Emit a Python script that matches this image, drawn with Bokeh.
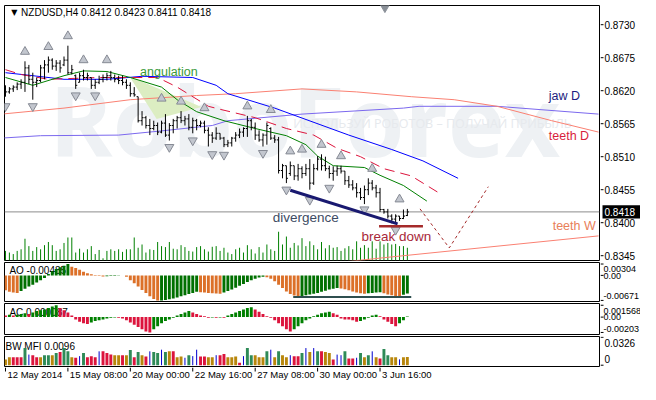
from bokeh.plotting import figure
from bokeh.models import Range1d, Span
from bokeh.layouts import column, row
from bokeh.embed import file_html
from bokeh.resources import INLINE
from bokeh.core.properties import value

# ---------------- data ----------------
symbol = "NZDUSD,H4"

high = [0.8629, 0.8626, 0.8629, 0.8634, 0.8639, 0.8669, 0.8663, 0.8650, 0.8642, 0.8663,
        0.8671, 0.8677, 0.8674, 0.8671, 0.8671, 0.8677, 0.8695, 0.8663, 0.8647, 0.8650,
        0.8655, 0.8650, 0.8642, 0.8639, 0.8645, 0.8647, 0.8650, 0.8653, 0.8647, 0.8645,
        0.8645, 0.8639, 0.8634, 0.8626, 0.8610, 0.8586, 0.8578, 0.8573, 0.8570, 0.8567,
        0.8570, 0.8581, 0.8566, 0.8573, 0.8578, 0.8586, 0.8578, 0.8581, 0.8575, 0.8573,
        0.8570, 0.8570, 0.8559, 0.8551, 0.8559, 0.8549, 0.8543, 0.8538, 0.8543, 0.8551,
        0.8557, 0.8559, 0.8578, 0.8573, 0.8567, 0.8554, 0.8549, 0.8567, 0.8559, 0.8546,
        0.8543, 0.8498, 0.8495, 0.8502, 0.8495, 0.8498, 0.8494, 0.8498, 0.8506, 0.8498,
        0.8511, 0.8514, 0.8510, 0.8495, 0.8494, 0.8495, 0.8495, 0.8486, 0.8478, 0.8471,
        0.8466, 0.8458, 0.8462, 0.8474, 0.8471, 0.8463, 0.8458, 0.8423, 0.8423, 0.8414,
        0.8414, 0.8411, 0.8422, 0.8423]
low = [0.8610, 0.8615, 0.8618, 0.8621, 0.8623, 0.8618, 0.8631, 0.8605, 0.8626, 0.8634,
       0.8639, 0.8650, 0.8655, 0.8653, 0.8650, 0.8661, 0.8647, 0.8647, 0.8623, 0.8634,
       0.8637, 0.8637, 0.8623, 0.8623, 0.8631, 0.8634, 0.8637, 0.8637, 0.8634, 0.8631,
       0.8629, 0.8623, 0.8610, 0.8610, 0.8567, 0.8562, 0.8557, 0.8546, 0.8554, 0.8546,
       0.8549, 0.8543, 0.8537, 0.8549, 0.8557, 0.8566, 0.8562, 0.8554, 0.8549, 0.8554,
       0.8559, 0.8549, 0.8527, 0.8533, 0.8538, 0.8538, 0.8526, 0.8526, 0.8527, 0.8535,
       0.8541, 0.8543, 0.8543, 0.8554, 0.8538, 0.8535, 0.8527, 0.8530, 0.8538, 0.8533,
       0.8482, 0.8474, 0.8466, 0.8478, 0.8471, 0.8470, 0.8474, 0.8478, 0.8455, 0.8463,
       0.8487, 0.8487, 0.8486, 0.8474, 0.8470, 0.8478, 0.8482, 0.8463, 0.8458, 0.8454,
       0.8442, 0.8438, 0.8431, 0.8446, 0.8454, 0.8442, 0.8418, 0.8415, 0.8407, 0.8399,
       0.8399, 0.8403, 0.8406, 0.8411]
open_ = [0.8623, 0.8618, 0.8623, 0.8626, 0.8631, 0.8634, 0.8658, 0.8639, 0.8634, 0.8637,
         0.8658, 0.8663, 0.8671, 0.8661, 0.8666, 0.8663, 0.8671, 0.8650, 0.8645, 0.8634,
         0.8645, 0.8642, 0.8642, 0.8629, 0.8634, 0.8639, 0.8642, 0.8645, 0.8642, 0.8639,
         0.8637, 0.8634, 0.8629, 0.8615, 0.8610, 0.8570, 0.8575, 0.8562, 0.8557, 0.8562,
         0.8551, 0.8566, 0.8546, 0.8562, 0.8570, 0.8575, 0.8570, 0.8573, 0.8559, 0.8570,
         0.8562, 0.8566, 0.8554, 0.8546, 0.8541, 0.8549, 0.8541, 0.8530, 0.8533, 0.8541,
         0.8546, 0.8551, 0.8557, 0.8570, 0.8559, 0.8546, 0.8538, 0.8546, 0.8557, 0.8541,
         0.8538, 0.8487, 0.8495, 0.8482, 0.8495, 0.8478, 0.8490, 0.8482, 0.8490, 0.8466,
         0.8490, 0.8506, 0.8495, 0.8490, 0.8482, 0.8486, 0.8490, 0.8486, 0.8470, 0.8463,
         0.8458, 0.8450, 0.8442, 0.8455, 0.8466, 0.8458, 0.8450, 0.8422, 0.8418, 0.8411,
         0.8406, 0.8411, 0.8407, 0.8412]
close = [0.8618, 0.8623, 0.8626, 0.8631, 0.8634, 0.8658, 0.8639, 0.8634, 0.8637, 0.8658,
         0.8663, 0.8671, 0.8661, 0.8666, 0.8658, 0.8671, 0.8650, 0.8655, 0.8629, 0.8645,
         0.8642, 0.8645, 0.8629, 0.8634, 0.8639, 0.8642, 0.8645, 0.8642, 0.8639, 0.8637,
         0.8634, 0.8629, 0.8615, 0.8613, 0.8570, 0.8575, 0.8562, 0.8557, 0.8562, 0.8551,
         0.8566, 0.8546, 0.8562, 0.8570, 0.8575, 0.8570, 0.8573, 0.8559, 0.8570, 0.8562,
         0.8566, 0.8554, 0.8546, 0.8541, 0.8549, 0.8541, 0.8530, 0.8533, 0.8541, 0.8546,
         0.8551, 0.8557, 0.8570, 0.8559, 0.8546, 0.8538, 0.8546, 0.8562, 0.8541, 0.8538,
         0.8487, 0.8495, 0.8474, 0.8495, 0.8478, 0.8490, 0.8482, 0.8490, 0.8466, 0.8490,
         0.8506, 0.8495, 0.8490, 0.8482, 0.8486, 0.8490, 0.8486, 0.8470, 0.8463, 0.8458,
         0.8450, 0.8442, 0.8455, 0.8466, 0.8458, 0.8450, 0.8422, 0.8418, 0.8411, 0.8406,
         0.8411, 0.8407, 0.8411, 0.8418]
volume = [1000, 830, 670, 1000, 1170, 2270, 1500, 1000, 1400, 1170,
          1600, 1930, 1600, 1000, 1170, 1830, 2400, 2400, 830, 1230,
          830, 1170, 1500, 670, 1100, 230, 1000, 1170, 1000, 1170,
          900, 1170, 1170, 2400, 1330, 1670, 830, 1170, 1100, 1930,
          1500, 1400, 1930, 1230, 1170, 1600, 1400, 1000, 930, 1400,
          1500, 1170, 930, 1430, 1500, 1000, 1330, 830, 670, 1170,
          1330, 830, 1600, 1170, 730, 1400, 830, 1670, 1170, 1000,
          3000, 1670, 2500, 1330, 1830, 1570, 2330, 1500, 2000, 1600,
          1170, 1930, 1270, 1600, 1330, 1400, 1000, 1270, 1500, 1170,
          2000, 1330, 1600, 1330, 2000, 1230, 2000, 1670, 1830, 1670,
          1730, 1500, 1500, 1330]

ao = [-0.0040, -0.0044, -0.0046, -0.0047, -0.0042, -0.0036, -0.0030, -0.0025, -0.0019, -0.0013,
      -0.0007, 0.0004, 0.0011, 0.0017, 0.0022, 0.0026, 0.00304, 0.0023, 0.0020, 0.0015,
      0.0010, 0.0006, 0.0003, 0.0001, -0.0002, -0.0003, -0.00025, -0.0002, -0.00015, -0.0001,
      -0.00005, -0.0004, -0.0013, -0.0021, -0.0030, -0.0039, -0.0047, -0.0056, -0.0063, -0.00671,
      -0.0067, -0.0066, -0.0064, -0.0062, -0.0059, -0.0056, -0.0053, -0.0050, -0.0047, -0.0044,
      -0.0045, -0.0046, -0.0047, -0.0048, -0.00485, -0.0049, -0.0046, -0.0042, -0.0038, -0.0033,
      -0.0028, -0.0023, -0.0018, -0.0013, -0.0009, -0.0006, -0.0004, -0.0005, -0.0009, -0.0016,
      -0.0025, -0.0034, -0.0043, -0.0050, -0.0054, -0.0056, -0.0055, -0.0053, -0.0051, -0.0049,
      -0.0047, -0.0044, -0.0041, -0.0038, -0.0036, -0.0034, -0.0035, -0.0037, -0.0040, -0.0043,
      -0.0046, -0.0048, -0.0049, -0.0048, -0.0047, -0.0046, -0.0045, -0.0048, -0.0051, -0.0053,
      -0.0055, -0.0056, -0.0052, -0.00485]
ac = [0.0002, 0.0003, 0.0002, 0.0003, 0.0004, 0.0005, 0.0004, 0.0006, 0.0008, 0.0009,
      0.0010, 0.0012, 0.0014, 0.001568, 0.0012, 0.0009, 0.0006, 0.0002, -0.0003, -0.0006,
      -0.0008, -0.0009, -0.0007, -0.0005, -0.0004, -0.0003, -0.0002, -0.0001, -0.00005, -0.0001,
      -0.0002, -0.0004, -0.0007, -0.0010, -0.0013, -0.0016, -0.0019, -0.00203, -0.0016, -0.0012,
      -0.0008, -0.0005, -0.0003, -0.0001, 0.0002, 0.0004, 0.0006, 0.0008, 0.0006, 0.0004,
      0.0002, 0.0001, -0.0001, -0.00005, -0.0001, -0.00005, -0.0001, 0.0002, 0.0004, 0.0006,
      0.0008, 0.0010, 0.0012, 0.0013, 0.0010, 0.0007, 0.0004, 0.0001, -0.0001, -0.0004,
      -0.0008, -0.0012, -0.0016, -0.0019, -0.0016, -0.0012, -0.0008, -0.0004, -0.0002, 0.0001,
      0.0003, 0.0005, 0.0006, 0.0007, 0.0005, 0.0003, -0.0002, -0.0003, -0.0003, -0.0004,
      -0.0006, -0.0005, -0.0003, -0.0001, 0.0002, 0.0003, 0.0001, -0.0003, -0.0006, -0.0009,
      -0.0012, -0.0008, -0.0004, 0.000087]
mfi = [0.0068, 0.0094, 0.0094, 0.0094, 0.0094, 0.0200, 0.0124, 0.0117, 0.0094, 0.0094,
       0.0117, 0.0117, 0.0117, 0.0143, 0.0155, 0.0200, 0.0162, 0.0094, 0.0087, 0.0106,
       0.0143, 0.0094, 0.0106, 0.0094, 0.0162, 0.0162, 0.0143, 0.0124, 0.0117, 0.0117,
       0.0117, 0.0117, 0.0177, 0.0094, 0.0155, 0.0117, 0.0102, 0.0162, 0.0155, 0.0143,
       0.0181, 0.0155, 0.0162, 0.0162, 0.0094, 0.0102, 0.0087, 0.0117, 0.0106, 0.0181,
       0.0102, 0.0102, 0.0094, 0.0094, 0.0117, 0.0117, 0.0132, 0.0094, 0.0094, 0.0102,
       0.0030, 0.0106, 0.0200, 0.0117, 0.0117, 0.0094, 0.0094, 0.0162, 0.0181, 0.0094,
       0.0162, 0.0117, 0.0094, 0.0117, 0.0106, 0.0106, 0.0143, 0.0200, 0.0155, 0.0200,
       0.0162, 0.0162, 0.0155, 0.0143, 0.0068, 0.0124, 0.0117, 0.0162, 0.0079, 0.0079,
       0.0087, 0.0143, 0.0094, 0.0117, 0.0162, 0.0094, 0.0079, 0.0189, 0.0117, 0.0094,
       0.0094, 0.0068, 0.0094, 0.0096]
mfi_kind = ["fade", "fade", "squat", "squat", "squat", "up", "fake", "squat", "squat", "fade",
            "up", "up", "fade", "up", "squat", "up", "up", "fade", "squat", "fake",
            "up", "squat", "squat", "squat", "fake", "squat", "squat", "squat", "fade", "fade",
            "squat", "fade", "up", "squat", "up", "fade", "squat", "fake", "up", "up",
            "fake", "up", "fade", "squat", "fade", "fade", "fake", "up", "fake", "fake",
            "squat", "squat", "fade", "fade", "fake", "squat", "squat", "fade", "fade", "fade",
            "squat", "fake", "up", "up", "fade", "fade", "fade", "up", "fake", "fade",
            "up", "fade", "fade", "fake", "squat", "squat", "up", "fake", "fade", "fake",
            "up", "squat", "fade", "fade", "squat", "fake", "fake", "up", "squat", "squat",
            "fake", "up", "fade", "up", "fake", "fade", "squat", "up", "up", "fade",
            "fade", "fake", "fade", "fade"]

time_ticks = [0, 16, 32, 48, 64, 80, 96]
time_labels = ["12 May 2014", "15 May 08:00", "20 May 00:00", "22 May 16:00",
               "27 May 08:00", "30 May 00:00", "3 Jun 16:00"]
price_ticks = [0.8345, 0.8400, 0.8455, 0.8510, 0.8565, 0.8620, 0.8675, 0.8730]
ao_scale = [0.00304, 0.0, -0.00671]
ac_scale = [0.001568, 0.0, -0.00203]
mfi_scale = [0.0326, 0.0]

# Alligator lines (bar index, price)
jaw_h4_x = [0, 7, 15, 26, 35, 48, 54, 57, 69, 88, 99, 107, 116]
jaw_h4_y = [0.8650, 0.8645, 0.8639, 0.8639, 0.8644, 0.8642, 0.8629, 0.8615, 0.8591, 0.8546, 0.8522, 0.8503, 0.8474]
teeth_h4_x = [0, 4, 11, 24, 39, 44, 52, 55, 64, 72, 79, 85, 91, 97, 104, 111]
teeth_h4_y = [0.8655, 0.8647, 0.8639, 0.8642, 0.8642, 0.8626, 0.8594, 0.8589, 0.8575, 0.8557, 0.8546, 0.8524, 0.8510, 0.8490, 0.8478, 0.8450]
lips_h4_x = [0, 7, 15, 20, 26, 32, 40, 44, 49, 56, 64, 72, 77, 80, 84, 92, 96, 102, 108]
lips_h4_y = [0.8642, 0.8629, 0.8645, 0.8653, 0.8652, 0.8642, 0.8626, 0.8605, 0.8585, 0.8570, 0.8557, 0.8545, 0.8530, 0.8511, 0.8495, 0.8492, 0.8479, 0.8462, 0.8436]
teeth_d_x = [-1, 15, 32, 49, 59, 76, 90, 104, 115, 126, 140, 152]
teeth_d_y = [0.8581, 0.8591, 0.8605, 0.8612, 0.8615, 0.8623, 0.8618, 0.8610, 0.8605, 0.8594, 0.8570, 0.8551]
jaw_d_x = [-1, 9, 29, 40, 53, 57, 76, 102, 106, 126, 152]
jaw_d_y = [0.8541, 0.8545, 0.8546, 0.8553, 0.8562, 0.8570, 0.8581, 0.8591, 0.8594, 0.8594, 0.8581]
teeth_w_x = [80, 99, 152]
teeth_w_y = [0.8330, 0.8343, 0.8378]

# fractals
frac_up_x = [5, 11, 16, 20, 26, 40, 45, 51, 62, 68, 73, 76, 81, 86, 94, 101]
frac_up_y = [0.8685, 0.8693, 0.8711, 0.8671, 0.8671, 0.8607, 0.8602, 0.8591, 0.8594, 0.8588,
             0.8519, 0.8522, 0.8530, 0.8511, 0.8490, 0.8439]
frac_dn_x = [0, 7, 18, 23, 42, 48, 53, 56, 66, 72, 78, 83, 92, 100]
frac_dn_y = [0.8594, 0.8594, 0.8612, 0.8612, 0.8526, 0.8537, 0.8514, 0.8513, 0.8516, 0.8455,
             0.8438, 0.8458, 0.8422, 0.8388]

# drawn analysis objects
ang_x = [31.75, 38.75, 50.25]
ang_y = [0.8644, 0.8573, 0.8593]
div_x = [73, 100.5]
div_y = [0.8454, 0.8398]
brk_x = [95.75, 107]
brk_y = [0.8394, 0.8394]
fc_x = [106.25, 113.75, 123.75]
fc_y = [0.8423, 0.8358, 0.8460]
ao_div_x = [73.75, 104]
ao_div_y = [-0.0058, -0.0058]

# ---------------- layout helpers ----------------
FONT = "Liberation Sans"
PW, LB, RB, SW = 600, 4, 1, 40     # panel width, borders, side strip width
N = len(high)
idx = list(range(N))
XR = Range1d(-0.25, 152.25)

PANELS = {  # reference px top, px bottom, value at top, value at bottom
    "main": (5, 271, 0.8762, 0.8337),
    "ao": (273, 314, 0.00345, -0.0070),
    "ac": (316, 348, 0.0018, -0.0023),
    "mfi": (350, 381, 0.0335, -0.0015),
}
YR = {k: Range1d(v[3], v[2]) for k, v in PANELS.items()}


def rx(px):
    return (px - 5) / 4.0


def ry(name, py):
    t, b, vt, vb = PANELS[name]
    return vt - (py - t) * (vt - vb) / (b - t)


def base_fig(width, height, xr, yr, left, right, top, bottom):
    p = figure(width=width, height=height, x_range=xr, y_range=yr,
               output_backend="svg", toolbar_location=None, tools="", title=None,
               min_border_left=left, min_border_right=right, min_border_top=top,
               min_border_bottom=bottom, x_axis_location=None, y_axis_location=None)
    p.grid.grid_line_color = None
    p.background_fill_color = "white"
    p.border_fill_color = "white"
    return p


def make_panel(name, height, top, bottom):
    p = base_fig(PW, height, XR, YR[name], LB, RB, top, bottom)
    p.outline_line_color = "black"
    p.outline_line_alpha = 1.0
    s = base_fig(SW, height, Range1d(0, SW), YR[name], 0, 0, top, bottom)
    s.outline_line_color = None
    return p, s


def side_text(s, texts, ys, size="10px", color="black", x0=4):
    s.text(x=[x0] * len(texts), y=ys, text=texts, text_font=value(FONT), text_font_size=size,
           text_color=color, text_baseline="middle", text_align="left")


def side_ticks(s, ticks):
    s.segment(x0=[0] * len(ticks), y0=ticks, x1=[3] * len(ticks), y1=ticks,
              line_color="black", line_width=1)


# ---------------- main panel ----------------
pm, sm = make_panel("main", 261, 5, 1)
pm.extra_y_ranges = {"vol": Range1d(0, 26600)}

# watermark
pm.text(x=[rx(50)], y=[ry("main", 124)], text=["RoboForex"], text_font=value("Open Sans"),
        text_font_size="96px", text_font_style="bold", text_color="#eef1f4",
        text_baseline="alphabetic")
pm.text(x=[rx(300)], y=[ry("main", 128)], text=["ИСПОЛЬЗУЙ РОБОТОВ – ПОЛУЧАЙ ПРИБЫЛЬ"],
        text_font=value("Open Sans"), text_font_size="12.5px", text_color="#e6e9ed",
        text_baseline="middle")

# angulation area
pm.patch(ang_x, ang_y, fill_color="#dcedc2", line_color=None)

# volumes
pm.segment(x0=idx, y0=[0] * N, x1=idx, y1=volume, y_range_name="vol",
           line_color="#008000", line_width=1)

# current price line
pm.add_layout(Span(location=close[-1], dimension="width", line_color="#8c8c8c",
                   line_width=1, level="underlay"))

# daily / weekly alligator
pm.line(teeth_w_x, teeth_w_y, line_color="#FA8072", line_width=1)
pm.line(jaw_d_x, jaw_d_y, line_color="#7B68EE", line_width=1)
pm.line(teeth_d_x, teeth_d_y, line_color="#FA8072", line_width=1)
# H4 alligator
pm.line(jaw_h4_x, jaw_h4_y, line_color="#0000FF", line_width=1)
pm.line(teeth_h4_x, teeth_h4_y, line_color="#DC143C", line_width=1, line_dash="10 6")
pm.line(lips_h4_x, lips_h4_y, line_color="#008000", line_width=1)

# OHLC bars
pm.segment(x0=idx, y0=low, x1=idx, y1=high, line_color="black", line_width=1)
pm.segment(x0=[i - 0.4 for i in idx], y0=open_, x1=idx, y1=open_, line_color="black", line_width=1)
pm.segment(x0=idx, y0=close, x1=[i + 0.4 for i in idx], y1=close, line_color="black", line_width=1)

# fractals
pm.scatter(frac_up_x, frac_up_y, marker="triangle", size=9, fill_color="#c2c6ce",
           line_color="#868a94", line_width=1)
pm.scatter(frac_dn_x, frac_dn_y, marker="inverted_triangle", size=9, fill_color="#c2c6ce",
           line_color="#868a94", line_width=1)

# analysis objects
pm.line(div_x, div_y, line_color="#191970", line_width=3)
pm.line(brk_x, brk_y, line_color="#A52A2A", line_width=2.5)
pm.line(fc_x, fc_y, line_color="#A52A2A", line_width=1, line_dash="3 3")

# shift marker
pm.scatter([rx(394)], [ry("main", 7)], marker="inverted_triangle", size=9,
           fill_color="#8a9098", line_color="#8a9098")

# texts
pm.text(x=[rx(14)], y=[ry("main", 12)], text=["▼"], text_font=value("DejaVu Sans"),
        text_font_size="8px", text_color="black", text_baseline="middle", text_align="center")
pm.text(x=[rx(21)], y=[ry("main", 12)],
        text=[f"{symbol}  {open_[-1]:.4f} {high[-1]:.4f} {low[-1]:.4f} {close[-1]:.4f}"],
        text_font=value(FONT), text_font_size="10px", text_color="black", text_baseline="middle")
for t, px, py, col, fs in [("angulation", 143, 74, "#3a9a3a", "12.5px"),
                           ("divergence", 279, 226, "#3d4b63", "13.5px"),
                           ("break down", 370, 246, "#a8283a", "13.5px"),
                           ("jaw D", 562, 99, "#1c1c80", "12.5px"),
                           ("teeth D", 562, 141, "#d81e3c", "12.5px"),
                           ("teeth W", 566, 235, "#e8805a", "12.5px")]:
    pm.text(x=[rx(px)], y=[ry("main", py)], text=[t], text_font=value(FONT),
            text_font_size=fs, text_color=col, text_baseline="middle")

# right price scale
side_ticks(sm, price_ticks)
side_text(sm, [f"{t:.4f}" for t in price_ticks], price_ticks)
sm.quad(left=[2], right=[SW], bottom=[ry("main", 227.5) - ry("main", 220.5) + close[-1]],
        top=[ry("main", 213.5) - ry("main", 220.5) + close[-1]],
        fill_color="black", line_color=None)
side_text(sm, [f"{close[-1]:.4f}"], [close[-1]], color="white")

# ---------------- AO ----------------
pa, sa = make_panel("ao", 41, 1, 1)
pa.text(x=[rx(9)], y=[ry("ao", 281)], text=[f"AO {ao[-1]:.5f}"], text_font=value(FONT),
        text_font_size="10px", text_color="black", text_baseline="middle")
ao_col = ["#007000" if i > 0 and ao[i] > ao[i - 1] else "#DC7028" for i in idx]
pa.vbar(x=idx, top=ao, bottom=0, width=0.75, fill_color=ao_col, line_color=None)
pa.line(ao_div_x, ao_div_y, line_color="#2F4F4F", line_width=2)
side_ticks(sa, ao_scale)
side_text(sa, [f"{ao_scale[0]:.5f}", "0.00", f"{ao_scale[2]:.5f}"],
          [ry("ao", 280), ry("ao", 287), ry("ao", 308.5)], size="9px", x0=3)

# ---------------- AC ----------------
pc, sc = make_panel("ac", 33, 1, 1)
pc.text(x=[rx(9)], y=[ry("ac", 325)], text=[f"AC {ac[-1]:.6f}"], text_font=value(FONT),
        text_font_size="10px", text_color="black", text_baseline="middle")
ac_col = ["#008000" if i > 0 and ac[i] > ac[i - 1] else "#DC143C" for i in idx]
pc.vbar(x=idx, top=ac, bottom=0, width=0.75, fill_color=ac_col, line_color=None)
side_ticks(sc, ac_scale)
side_text(sc, [f"{ac_scale[0]:.6f}", "0.00", f"{ac_scale[2]:.5f}"],
          [ry("ac", 323.5), ry("ac", 329.5), ry("ac", 342)], size="9px", x0=3)

# ---------------- BW MFI ----------------
pf, sf = make_panel("mfi", 32, 1, 1)
pf.text(x=[rx(5)], y=[ry("mfi", 360)], text=[f"BW MFI {mfi[-1]:.4f}"], text_font=value(FONT),
        text_font_size="10px", text_color="black", text_baseline="middle")
kind_color = {"up": "#2E8B57", "fade": "#B8860B", "fake": "#0000CD", "squat": "#DC143C"}
wide = [i for i in idx if mfi_kind[i] != "fake"]
thin = [i for i in idx if mfi_kind[i] == "fake"]
pf.vbar(x=wide, top=[mfi[i] for i in wide], bottom=0, width=0.75,
        fill_color=[kind_color[mfi_kind[i]] for i in wide], line_color=None)
pf.segment(x0=thin, y0=[0] * len(thin), x1=thin, y1=[mfi[i] for i in thin],
           line_color=kind_color["fake"], line_width=1)
side_ticks(sf, mfi_scale)
side_text(sf, [f"{mfi_scale[0]:.4f}", "0"], [ry("mfi", 357), ry("mfi", 373)])

# ---------------- time scale ----------------
BH = 17
bf = base_fig(PW, BH, XR, Range1d(0, BH), LB, RB, 0, 0)
bf.outline_line_color = None
bf.segment(x0=time_ticks, y0=[BH] * len(time_ticks), x1=time_ticks, y1=[BH - 4] * len(time_ticks),
           line_color="black", line_width=1)
bf.text(x=[t + 0.5 for t in time_ticks], y=[BH - 7] * len(time_ticks), text=time_labels,
        text_font=value(FONT), text_font_size="9.5px", text_color="black",
        text_baseline="middle", text_align="left")

layout = column(row(pm, sm, spacing=0), row(pa, sa, spacing=0), row(pc, sc, spacing=0),
                row(pf, sf, spacing=0), bf, spacing=0)
open("out.html", "w").write(file_html(layout, INLINE))
